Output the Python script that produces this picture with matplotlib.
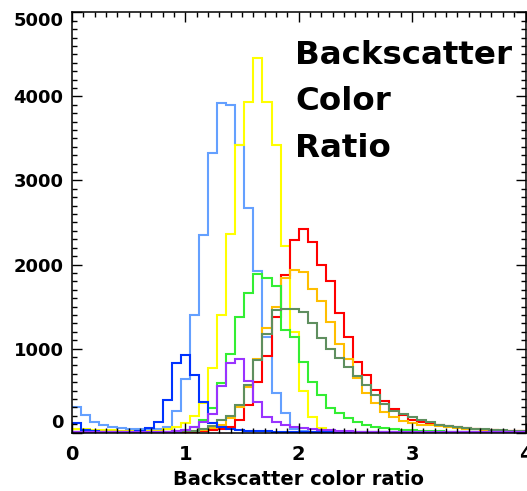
import matplotlib.pyplot as plt
import numpy as np

# histogram counts, 50 bins of width 0.08 from 0 to 4
light_blue = [300, 210, 130, 90, 70, 55, 45, 40, 40, 45,
              70, 260, 640, 1400, 2350, 3330, 3920, 3900, 3420, 2670,
              1920, 1140, 470, 230, 40, 15, 6, 5, 5, 5,
              5, 5, 5, 5, 5, 5, 5, 5, 5, 5,
              5, 5, 5, 5, 5, 5, 5, 5, 5, 5]
yellow = [40, 38, 35, 35, 30, 20, 15, 12, 12, 15,
          40, 70, 115, 200, 350, 765, 1400, 2365, 3420, 3935,
          4455, 3935, 3420, 2215, 1200, 490, 190, 50, 15, 6,
          5, 5, 5, 5, 5, 5, 5, 5, 5, 5,
          5, 5, 5, 5, 5, 5, 5, 5, 5, 5]
red = [3, 3, 3, 3, 3, 3, 3, 3, 3, 3,
       5, 5, 8, 10, 15, 25, 40, 70, 150, 330,
       600, 910, 1370, 1880, 2290, 2420, 2270, 1990, 1800, 1420,
       1140, 845, 685, 510, 370, 275, 210, 150, 120, 105,
       90, 80, 65, 55, 45, 35, 28, 22, 18, 14]
orange = [3, 3, 3, 3, 3, 3, 3, 3, 3, 3,
          5, 8, 12, 20, 35, 55, 90, 170, 300, 545,
          880, 1250, 1500, 1840, 1935, 1915, 1710, 1560, 1320, 1050,
          880, 650, 470, 350, 250, 185, 140, 110, 95, 85,
          75, 65, 55, 45, 38, 30, 25, 20, 15, 12]
green = [3, 3, 3, 3, 3, 3, 3, 3, 3, 3,
         8, 15, 30, 60, 150, 290, 585, 940, 1370, 1660,
         1890, 1835, 1740, 1220, 1140, 845, 605, 445, 290, 228,
         170, 130, 90, 70, 50, 40, 30, 25, 20, 15,
         12, 10, 8, 8, 7, 6, 6, 5, 5, 5]
dark_green = [2, 2, 2, 2, 2, 2, 2, 2, 2, 2,
              5, 8, 12, 20, 40, 80, 150, 200, 330, 570,
              860, 1170, 1460, 1475, 1475, 1440, 1300, 1120, 1000, 890,
              780, 670, 560, 445, 345, 260, 220, 180, 150, 120,
              95, 80, 68, 55, 45, 38, 30, 25, 20, 15]
blue = [110, 25, 12, 10, 10, 10, 10, 12, 50, 130,
        387, 830, 925, 690, 360, 110, 70, 45, 30, 20,
        15, 12, 8, 6, 5, 5, 5, 5, 5, 5,
        5, 5, 5, 5, 5, 5, 5, 5, 5, 5,
        5, 5, 5, 5, 5, 5, 5, 5, 5, 5]
purple = [5, 5, 5, 5, 5, 5, 5, 5, 5, 5,
          8, 15, 30, 65, 130, 215, 550, 830, 880, 615,
          367, 188, 129, 89, 69, 50, 40, 30, 25, 20,
          15, 10, 10, 8, 8, 8, 7, 7, 6, 6,
          6, 5, 5, 5, 5, 5, 5, 5, 5, 5]

series = [light_blue, yellow, red, orange, green, dark_green, blue, purple]
colors = ['#64a0ff', '#ffff00', '#ff0000', '#ffbe00', '#33ee33', '#5f8f5f', '#0033ff', '#9933ff']

n_bins = len(light_blue)
edges = np.linspace(0, 4, n_bins + 1)

fig = plt.figure(figsize=(5.27, 4.91), dpi=100)
ax = fig.add_axes([72 / 527, 58.5 / 491, 453.5 / 527, 420 / 491])

for vals, col in zip(series, colors):
    ax.stairs(vals, edges, baseline=None, color=col, linewidth=1.5)

ax.set_xlim(0, 4)
ax.set_ylim(0, 5000)
ax.set_xticks([0, 1, 2, 3, 4])
ax.set_xticks(np.arange(0, 4.001, 0.1), minor=True)
ax.set_yticks([0, 1000, 2000, 3000, 4000, 5000])
ax.set_yticks(np.arange(0, 5001, 100), minor=True)

ax.tick_params(which='both', direction='in', top=True, right=True, width=1)
ax.tick_params(which='major', length=7)
ax.tick_params(which='minor', length=3.5)
ax.tick_params(axis='y', labelsize=13, pad=6)
ax.tick_params(axis='x', labelsize=14, pad=9)
for lab in ax.get_xticklabels() + ax.get_yticklabels():
    lab.set_fontweight('bold')

# keep end labels inside the axis span, like the original
yticks = ax.yaxis.get_major_ticks()
yticks[0].label1.set_va('bottom')
yticks[-1].label1.set_va('top')

for sp in ax.spines.values():
    sp.set_linewidth(1.1)

ax.set_xlabel('Backscatter color ratio', fontsize=14, fontweight='bold', labelpad=4)

ax.text(0.492, 0.877, 'Backscatter', transform=ax.transAxes, fontsize=23.4,
        fontweight='bold', va='baseline', ha='left')
ax.text(0.492, 0.767, 'Color', transform=ax.transAxes, fontsize=23.4,
        fontweight='bold', va='baseline', ha='left')
ax.text(0.492, 0.656, 'Ratio', transform=ax.transAxes, fontsize=23.4,
        fontweight='bold', va='baseline', ha='left')

fig.savefig('out.png', dpi=100)
